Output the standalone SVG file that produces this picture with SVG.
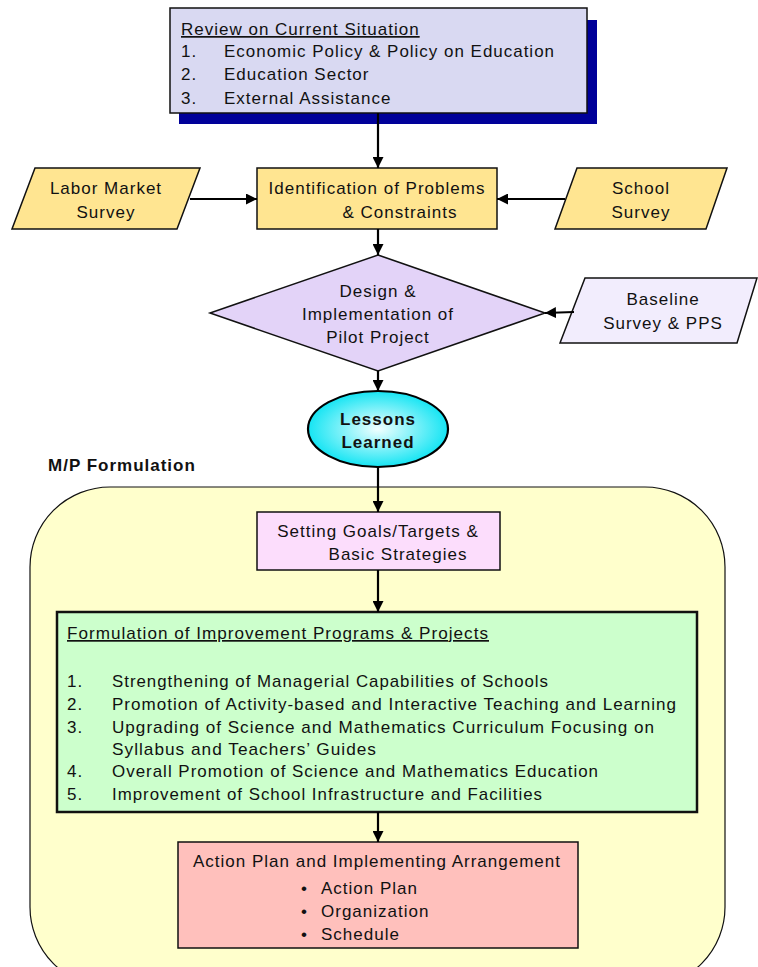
<svg xmlns="http://www.w3.org/2000/svg" width="758" height="967" viewBox="0 0 758 967">
  <style>
    text { font-family: "Liberation Sans", Arial, sans-serif; font-size: 17px; fill: #111; letter-spacing: 1px; }
    .b { font-weight: bold; }
    .u { text-decoration: underline; }
    .mid { text-anchor: middle; }
    .box { stroke: #111; stroke-width: 1.5; }
    .conn { stroke: #000; stroke-width: 2.2; fill: none; marker-end: url(#arrow); }
  </style>
  <defs>
    <marker id="arrow" viewBox="0 0 10 10" refX="10" refY="5" markerWidth="5" markerHeight="5" markerUnits="strokeWidth" orient="auto">
      <path d="M0,0 L10,5 L0,10 z" fill="#000"/>
    </marker>
    <radialGradient id="cyanGlow" cx="0.5" cy="0.5" r="0.55">
      <stop offset="0" stop-color="#F2FFFF"/>
      <stop offset="1" stop-color="#00E2F2"/>
    </radialGradient>
  </defs>

  <rect width="758" height="967" fill="#fff"/>

  <!-- M/P formulation container -->
  <g id="mp-container">
    <rect x="30" y="487" width="695" height="500" rx="80" ry="80" fill="#FFFFCC" stroke="#111" stroke-width="1.2"/>
    <text x="48" y="471" class="b">M/P Formulation</text>
  </g>

  <!-- Review box with drop shadow -->
  <g id="review">
    <rect x="179" y="20" width="418" height="104" fill="#000099"/>
    <rect x="170" y="8" width="417" height="105" fill="#D9D9F2" class="box"/>
    <text x="181" y="35" class="u">Review on Current Situation</text>
    <text x="181" y="57">1.</text>
    <text x="224" y="57" textLength="331" lengthAdjust="spacingAndGlyphs">Economic Policy &amp; Policy on Education</text>
    <text x="181" y="80">2.</text>
    <text x="224" y="80">Education Sector</text>
    <text x="181" y="104">3.</text>
    <text x="224" y="104">External Assistance</text>
  </g>

  <g id="identification">
    <rect x="257" y="168" width="240" height="61" fill="#FFE591" class="box"/>
    <text x="377" y="194" class="mid">Identification of Problems</text>
    <text x="400" y="218" class="mid">&amp; Constraints</text>
  </g>

  <g id="labor-survey">
    <polygon points="35,168 200,168 177,229 12,229" fill="#FFE591" class="box"/>
    <text x="106" y="194" class="mid">Labor Market</text>
    <text x="106" y="218" class="mid">Survey</text>
  </g>

  <g id="school-survey">
    <polygon points="577,168 727,168 706,229 555,229" fill="#FFE591" class="box"/>
    <text x="641" y="194" class="mid">School</text>
    <text x="641" y="218" class="mid">Survey</text>
  </g>

  <g id="pilot">
    <polygon points="378,255 545,313 378,371 210,313" fill="#E3D3F8" class="box"/>
    <text x="378" y="297" class="mid">Design &amp;</text>
    <text x="378" y="320" class="mid">Implementation of</text>
    <text x="378" y="343" class="mid">Pilot Project</text>
  </g>

  <g id="baseline">
    <polygon points="585,278 757,278 737,343 560,343" fill="#F2EDFD" class="box"/>
    <text x="663" y="305" class="mid">Baseline</text>
    <text x="663" y="329" class="mid">Survey &amp; PPS</text>
  </g>

  <g id="lessons">
    <ellipse cx="378" cy="429" rx="70" ry="38" fill="url(#cyanGlow)" stroke="#000" stroke-width="2.2"/>
    <text x="378" y="425" class="mid b">Lessons</text>
    <text x="378" y="448" class="mid b">Learned</text>
  </g>

  <g id="goals">
    <rect x="257" y="512" width="243" height="58" fill="#FCDDFC" class="box"/>
    <text x="378" y="537" class="mid">Setting Goals/Targets &amp;</text>
    <text x="398" y="560" class="mid">Basic Strategies</text>
  </g>

  <g id="programs">
    <rect x="57" y="612" width="640" height="200" fill="#CCFFCC" stroke="#111" stroke-width="2.5"/>
    <text x="67" y="639" class="u" textLength="422" lengthAdjust="spacingAndGlyphs">Formulation of Improvement Programs &amp; Projects</text>
    <text x="67" y="687">1.</text>
    <text x="112" y="687" textLength="437" lengthAdjust="spacingAndGlyphs">Strengthening of Managerial Capabilities of Schools</text>
    <text x="67" y="710">2.</text>
    <text x="112" y="710" textLength="565" lengthAdjust="spacingAndGlyphs">Promotion of Activity-based and Interactive Teaching and Learning</text>
    <text x="67" y="733">3.</text>
    <text x="112" y="733" textLength="543" lengthAdjust="spacingAndGlyphs">Upgrading of Science and Mathematics Curriculum Focusing on</text>
    <text x="112" y="755" textLength="265" lengthAdjust="spacingAndGlyphs">Syllabus and Teachers’ Guides</text>
    <text x="67" y="777">4.</text>
    <text x="112" y="777" textLength="487" lengthAdjust="spacingAndGlyphs">Overall Promotion of Science and Mathematics Education</text>
    <text x="67" y="800">5.</text>
    <text x="112" y="800" textLength="431" lengthAdjust="spacingAndGlyphs">Improvement of School Infrastructure and Facilities</text>
  </g>

  <g id="action-plan">
    <rect x="178" y="842" width="400" height="106" fill="#FFC0BC" class="box"/>
    <text x="377" y="867" class="mid">Action Plan and Implementing Arrangement</text>
    <text x="301" y="894">•</text>
    <text x="321" y="894">Action Plan</text>
    <text x="301" y="917">•</text>
    <text x="321" y="917">Organization</text>
    <text x="301" y="940">•</text>
    <text x="321" y="940">Schedule</text>
  </g>

  <!-- connectors -->
  <g id="connectors">
    <line x1="378" y1="113" x2="378" y2="168" class="conn"/>
    <line x1="190" y1="199" x2="257" y2="199" class="conn"/>
    <line x1="565" y1="199" x2="497" y2="199" class="conn"/>
    <line x1="378" y1="229" x2="378" y2="255" class="conn"/>
    <line x1="574" y1="312" x2="545" y2="313" class="conn"/>
    <line x1="378" y1="371" x2="378" y2="391" class="conn"/>
    <line x1="378" y1="467" x2="378" y2="512" class="conn"/>
    <line x1="378" y1="570" x2="378" y2="612" class="conn"/>
    <line x1="378" y1="812" x2="378" y2="842" class="conn"/>
  </g>
</svg>
